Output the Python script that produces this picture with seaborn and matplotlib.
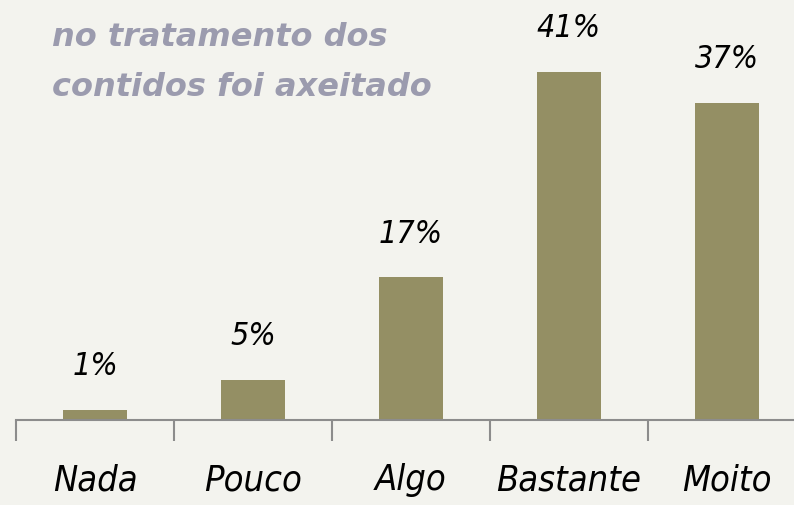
import matplotlib
matplotlib.use("Agg")
import matplotlib.pyplot as plt
import seaborn as sns
import pandas as pd
from matplotlib.ticker import FixedLocator

categories = ["Nada", "Pouco", "Algo", "Bastante", "Moito"]
values = [1.2, 4.7, 16.8, 41.0, 37.3]
value_labels = ["1%", "5%", "17%", "41%", "37%"]
title_lines = ["O enfoque empregado", "no tratamento dos", "contidos foi axeitado"]

bg = "#f3f3ee"
bar_color = "#948f64"
title_color = "#9b9bae"

sns.set_theme(style="white")
plt.rcParams["font.family"] = ["DejaVu Sans"]

label_kw = dict(family="DejaVu Sans", fontstretch="condensed")

W, H = 794, 505
fig = plt.figure(figsize=(W / 100, H / 100), dpi=100, facecolor=bg)
ax = fig.add_axes([16 / W, (H - 420) / H, 790 / W, 420 / H])
ax.set_facecolor(bg)

df = pd.DataFrame({"cat": categories, "val": values})
sns.barplot(data=df, x="cat", y="val", color=bar_color, width=0.4,
            saturation=1, ax=ax, edgecolor="none")

ax.set_xlim(-0.5, 4.5)
ax.set_ylim(0, 420 / 8.5)
ax.set_xlabel("")
ax.set_ylabel("")
ax.set_yticks([])
for s in ["top", "right", "left"]:
    ax.spines[s].set_visible(False)
ax.spines["bottom"].set_color("#8c8c8c")
ax.spines["bottom"].set_linewidth(1.5)

ax.xaxis.set_minor_locator(FixedLocator([-0.5, 0.5, 1.5, 2.5, 3.5, 4.5]))
ax.tick_params(axis="x", which="minor", length=15, width=1.5, color="#8c8c8c", bottom=True)
ax.tick_params(axis="x", which="major", length=0, pad=31)
ax.set_xticks(range(len(categories)))
ax.set_xticklabels(categories, fontsize=26, style="italic", color="black", **label_kw)

for i, (v, lab) in enumerate(zip(values, value_labels)):
    ax.annotate(lab, xy=(i, v), xytext=(0, 31), textcoords="offset points",
                ha="center", va="center", fontsize=23, style="italic", color="black",
                **label_kw)

for k, line in enumerate(title_lines):
    y = -16 if k == 0 else -12 + 50 * k
    fig.text(52 / W, 1 - y / H, line, ha="left", va="center",
             fontsize=23, fontweight="bold", style="italic", color=title_color,
             family=["DejaVu Sans"])

fig.savefig("out.png", dpi=100, facecolor=bg)
